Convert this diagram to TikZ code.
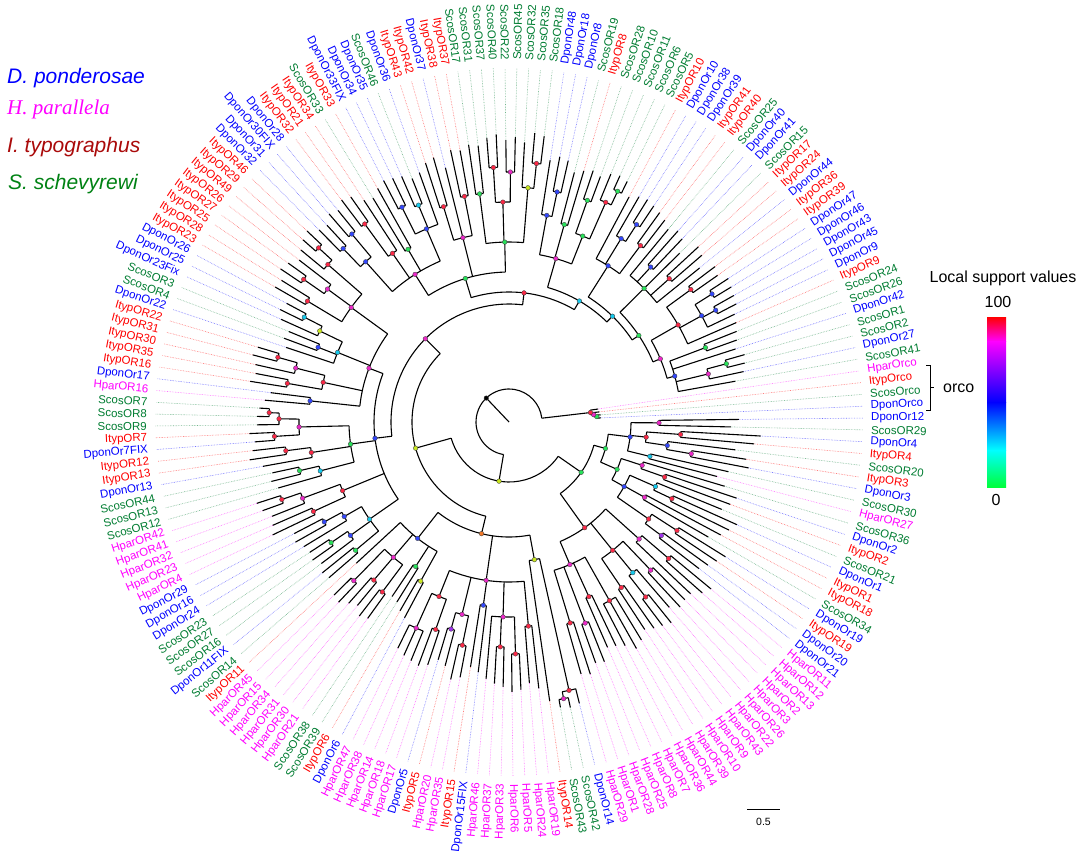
\documentclass[tikz,border=0pt]{standalone}
\usepackage{fontspec}
\setmainfont{Liberation Sans}
\newfontfamily\serifit{Liberation Serif}
\definecolor{spD}{RGB}{0,0,255}
\definecolor{spH}{RGB}{255,0,255}
\definecolor{spI}{RGB}{255,0,0}
\definecolor{spS}{RGB}{0,125,50}
\definecolor{legI}{RGB}{170,10,10}
\definecolor{legS}{RGB}{0,130,20}
\definecolor{cR}{RGB}{250,40,70}
\definecolor{cM}{RGB}{235,40,200}
\definecolor{cP}{RGB}{160,50,235}
\definecolor{cB}{RGB}{50,70,250}
\definecolor{cC}{RGB}{20,200,235}
\definecolor{cG}{RGB}{40,225,90}
\definecolor{cY}{RGB}{200,230,30}
\definecolor{cO}{RGB}{240,120,40}
\newcount\leafk \leafk=0
\newcount\nodek \nodek=0
\def\curR{0}
\def\firstA{}\def\lastA{}
\tikzset{
  branch/.style={line width=1.1pt, black},
  dotline/.style={densely dotted, line width=0.6pt, opacity=0.55},
  leaf/.style={font=\fontsize{11.5}{12}\selectfont, inner sep=0pt},
  dot/.style={circle, inner sep=0pt, minimum size=4.6pt, draw=black!75, line width=0.35pt},
  legend/.style={font=\fontsize{21}{24}\selectfont\itshape, anchor=base west, inner sep=0pt}
}
\newcommand\TL[3]{%
  \pgfmathsetmacro\myA{0.64-\the\leafk*1.914894}%
  \global\advance\leafk by 1
  \draw[branch] (\myA:\curR) -- (\myA:#1);
  \draw[#2, dotline] (\myA:#1) -- (\myA:354);
  \pgfmathtruncatemacro\rt{cos(\myA)>0}%
  \ifnum\rt=1
    \node[leaf, text=#2, rotate=\myA, anchor=west] (L-#3) at (\myA:362) {#3};
  \else
    \node[leaf, text=#2, rotate=\myA+180, anchor=east] (L-#3) at (\myA:362) {#3};
  \fi
  \ifx\firstA\empty \let\firstA\myA \fi
  \let\lastA\myA
}
\newcommand\TN[3]{%
  \begingroup
    \let\parR\curR
    \def\curR{#1}%
    \def\firstA{}\def\lastA{}%
    #3%
    \pgfmathsetmacro\nodeA{(\firstA+\lastA)/2}%
    \draw[branch] (\firstA:#1) arc[start angle=\firstA, end angle=\lastA, radius=#1];
    \draw[branch] (\nodeA:\parR) -- (\nodeA:#1);
    \global\advance\nodek by 1
    \edef\nn{n\the\nodek}%
    \node[dot, fill=#2] (\nn) at (\nodeA:#1) {};
    \xdef\retA{\nodeA}%
  \endgroup
  \ifx\firstA\empty \let\firstA\retA \fi
  \let\lastA\retA
}
\begin{document}
\begin{tikzpicture}[x=1pt, y=1pt]
\useasboundingbox (0,0) rectangle (1084,-859);
\fill[white] (0,0) rectangle (1084,-859);
\begin{scope}[shift={(509,-422)}]
\TN{33}{black}{
 \TN{60}{cY}{
  \TN{88}{cG}{
   \TN{100}{cG}{
    \TN{122}{cB}{
      \TN{150}{cM}{\TL{230}{spD}{DponOr12}\TL{222}{spS}{ScosOR29}}
      \TN{138}{cR}{
        \TN{172}{cR}{\TL{252}{spD}{DponOr4}\TL{246}{spI}{ItypOR4}}
        \TN{160}{cB}{\TL{228}{spS}{ScosOR20}\TN{185}{cM}{\TL{240}{spI}{ItypOR3}\TL{244}{spD}{DponOr3}}}
      }
      \TN{145}{cC}{\TL{225}{spS}{ScosOR30}\TL{215}{spH}{HparOR27}}
    }
    \TN{118}{cG}{
      \TN{140}{cM}{\TL{225}{spS}{ScosOR36}\TN{165}{cR}{\TL{240}{spD}{DponOr2}\TL{236}{spI}{ItypOR2}}}
      \TN{132}{cB}{
        \TN{160}{cC}{\TL{230}{spS}{ScosOR21}\TN{180}{cR}{\TL{250}{spD}{DponOr1}\TL{245}{spI}{ItypOR1}}}
        \TN{155}{cM}{\TL{240}{spI}{ItypOR18}\TL{230}{spS}{ScosOR34}}
        \TN{170}{cR}{\TN{200}{cR}{\TL{255}{spD}{DponOr19}\TL{250}{spI}{ItypOR19}}\TN{190}{cP}{\TL{245}{spD}{DponOr20}\TL{240}{spD}{DponOr21}}}
      }
    }
   }
   \TN{130}{cR}{
     \TN{175}{cM}{\TN{210}{cR}{\TL{262}{spH}{HparOR11}\TL{258}{spH}{HparOR12}}\TL{250}{spH}{HparOR13}}
     \TN{165}{cR}{
       \TN{205}{cM}{\TL{250}{spH}{HparOR2}\TL{252}{spH}{HparOR3}}
       \TN{195}{cC}{\TL{245}{spH}{HparOR26}\TN{222}{cR}{\TL{258}{spH}{HparOR22}\TL{255}{spH}{HparOR43}}}
       \TN{200}{cR}{\TL{252}{spH}{HparOR9}\TL{248}{spH}{HparOR10}}
     }
     \TN{155}{cM}{
       \TN{205}{cR}{\TL{255}{spH}{HparOR39}\TL{260}{spH}{HparOR44}\TL{252}{spH}{HparOR36}}
       \TN{192}{cR}{\TL{248}{spH}{HparOR7}\TL{246}{spH}{HparOR8}}
       \TN{215}{cM}{\TL{258}{spH}{HparOR25}\TL{256}{spH}{HparOR28}}
       \TN{210}{cR}{\TL{265}{spH}{HparOR1}\TL{262}{spH}{HparOR29}}
     }
   }
  }
  \TN{97}{cY}{
   \TN{115}{cO}{
     \TN{140}{cY}{\TN{275}{cR}{\TL{290}{spD}{DponOr14}\TN{282}{cM}{\TL{292}{spS}{ScosOR42}\TL{290}{spS}{ScosOR43}}}\TL{282}{spI}{ItypOR14}}
     \TN{160}{cM}{
       \TN{205}{cR}{\TL{268}{spH}{HparOR19}\TL{262}{spH}{HparOR24}}
       \TN{195}{cM}{\TN{232}{cR}{\TL{268}{spH}{HparOR5}\TL{270}{spH}{HparOR6}}\TN{225}{cR}{\TL{265}{spH}{HparOR33}\TL{262}{spH}{HparOR37}}\TL{258}{spH}{HparOR46}}
       \TN{185}{cB}{\TL{252}{spD}{DponOr15FIX}\TL{248}{spI}{ItypOR15}}
       \TN{198}{cM}{\TN{228}{cR}{\TL{260}{spH}{HparOR35}\TL{264}{spH}{HparOR20}}\TN{215}{cP}{\TL{252}{spI}{ItypOR5}\TL{248}{spD}{DponOr5}}}
       \TN{188}{cR}{\TN{220}{cR}{\TL{256}{spH}{HparOR17}\TL{260}{spH}{HparOR18}}\TN{226}{cM}{\TL{258}{spH}{HparOR14}\TL{256}{spH}{HparOR38}\TL{252}{spH}{HparOR47}}}
     }
     \TN{148}{cB}{
       \TN{182}{cY}{\TL{222}{spD}{DponOr6}\TL{218}{spI}{ItypOR6}}
       \TN{172}{cG}{\TL{212}{spS}{ScosOR39}\TL{210}{spS}{ScosOR38}}
       \TN{178}{cM}{\TN{212}{cR}{\TL{242}{spH}{HparOR21}\TL{245}{spH}{HparOR30}}\TN{208}{cR}{\TL{238}{spH}{HparOR31}\TL{242}{spH}{HparOR34}}\TN{222}{cM}{\TL{248}{spH}{HparOR15}\TL{246}{spH}{HparOR45}}}
       \TL{208}{spI}{ItypOR11}
     }
   }
   \TN{118}{cM}{
    \TN{135}{cB}{
     \TN{170}{cC}{
       \TN{200}{cG}{\TL{238}{spS}{ScosOR14}\TL{240}{spD}{DponOr11FIX}}
       \TN{195}{cB}{\TL{235}{spS}{ScosOR16}\TN{215}{cG}{\TL{240}{spS}{ScosOR27}\TL{238}{spS}{ScosOR23}}}
       \TN{190}{cB}{\TL{240}{spD}{DponOr24}\TN{210}{cB}{\TL{245}{spD}{DponOr16}\TL{242}{spD}{DponOr29}}}
     }
     \TN{180}{cR}{\TN{215}{cR}{\TL{262}{spH}{HparOR4}\TL{258}{spH}{HparOR23}}\TN{220}{cM}{\TL{255}{spH}{HparOR32}\TN{240}{cR}{\TL{262}{spH}{HparOR41}\TL{265}{spH}{HparOR42}}}}
     \TN{160}{cG}{
       \TN{195}{cC}{\TL{240}{spS}{ScosOR12}\TN{215}{cG}{\TL{245}{spS}{ScosOR13}\TL{242}{spS}{ScosOR44}}}
       \TN{200}{cR}{\TL{250}{spD}{DponOr13}\TN{225}{cR}{\TL{262}{spI}{ItypOR13}\TL{258}{spI}{ItypOR12}}}
       \TN{210}{cM}{\TN{235}{cR}{\TL{255}{spD}{DponOr7FIX}\TL{260}{spI}{ItypOR7}}\TN{230}{cR}{\TL{252}{spS}{ScosOR9}\TN{240}{cR}{\TL{252}{spS}{ScosOR8}\TL{250}{spS}{ScosOR7}}}}
     }
     \TN{150}{cM}{
       \TN{200}{cB}{\TL{245}{spH}{HparOR16}\TL{240}{spD}{DponOr17}}
       \TN{190}{cR}{\TN{225}{cR}{\TL{262}{spI}{ItypOR16}\TL{258}{spI}{ItypOR35}}\TN{220}{cM}{\TL{260}{spI}{ItypOR30}\TN{240}{cR}{\TL{265}{spI}{ItypOR31}\TL{262}{spI}{ItypOR22}}}}
       \TN{185}{cC}{\TL{235}{spD}{DponOr22}\TN{205}{cB}{\TL{240}{spS}{ScosOR4}\TL{238}{spS}{ScosOR3}}\TN{210}{cY}{\TL{250}{spD}{DponOr23Fix}\TN{230}{cC}{\TL{255}{spD}{DponOr25}\TL{252}{spD}{DponOr26}}}}
       \TN{195}{cM}{\TN{235}{cR}{\TL{270}{spI}{ItypOR23}\TL{268}{spI}{ItypOR28}}\TN{225}{cM}{\TN{250}{cR}{\TL{275}{spI}{ItypOR25}\TL{272}{spI}{ItypOR27}}\TL{265}{spI}{ItypOR26}}\TN{240}{cR}{\TL{270}{spI}{ItypOR49}\TN{258}{cR}{\TL{275}{spI}{ItypOR29}\TL{278}{spI}{ItypOR46}}}}
     }
    }
    \TN{130}{cR}{
     \TN{150}{cG}{
       \TN{175}{cM}{
         \TN{215}{cB}{\TN{240}{cB}{\TL{270}{spD}{DponOr32}\TL{268}{spD}{DponOr31}}\TN{245}{cB}{\TL{275}{spD}{DponOr30FIX}\TL{272}{spD}{DponOr28}}}
         \TN{205}{cR}{\TN{245}{cR}{\TL{278}{spI}{ItypOR32}\TL{275}{spI}{ItypOR21}}\TL{265}{spI}{ItypOR34}}
         \TN{200}{cG}{\TL{262}{spS}{ScosOR33}\TL{268}{spI}{ItypOR33}}
         \TN{210}{cB}{\TN{240}{cB}{\TL{272}{spD}{DponOr33FIX}\TL{270}{spD}{DponOr34}}\TN{235}{cC}{\TL{268}{spD}{DponOr35}\TL{262}{spS}{ScosOR46}}\TL{265}{spD}{DponOr36}}
       }
       \TN{190}{cM}{\TN{225}{cR}{\TL{272}{spI}{ItypOR43}\TL{275}{spI}{ItypOR42}}\TL{262}{spD}{DponOr37}\TN{230}{cR}{\TL{278}{spI}{ItypOR38}\TL{276}{spI}{ItypOR37}}}
       \TN{180}{cG}{
         \TN{230}{cG}{\TL{280}{spS}{ScosOR17}\TL{278}{spS}{ScosOR31}}
         \TN{220}{cR}{\TN{255}{cR}{\TL{285}{spS}{ScosOR37}\TL{288}{spS}{ScosOR40}}\TN{250}{cM}{\TL{282}{spS}{ScosOR22}\TL{285}{spS}{ScosOR45}}}
         \TN{235}{cY}{\TL{280}{spS}{ScosOR32}\TN{260}{cR}{\TL{290}{spS}{ScosOR35}\TL{288}{spS}{ScosOR18}}}
       }
     }
     \TN{140}{cC}{
       \TN{170}{cM}{
         \TN{210}{cB}{\TL{265}{spD}{DponOr48}\TN{235}{cB}{\TL{270}{spD}{DponOr18}\TL{268}{spD}{DponOr8}}}
         \TN{205}{cG}{\TL{258}{spS}{ScosOR19}\TL{262}{spI}{ItypOR8}}
         \TN{200}{cG}{\TN{235}{cG}{\TL{265}{spS}{ScosOR28}\TL{262}{spS}{ScosOR10}}\TN{240}{cR}{\TL{268}{spS}{ScosOR11}\TN{255}{cG}{\TL{270}{spS}{ScosOR6}\TL{268}{spS}{ScosOR5}}}}
       }
       \TN{148}{cC}{
         \TN{185}{cB}{\TL{255}{spI}{ItypOR10}\TN{215}{cB}{\TL{260}{spD}{DponOr10}\TN{235}{cB}{\TL{262}{spD}{DponOr38}\TL{260}{spD}{DponOr39}}}\TN{220}{cR}{\TL{258}{spI}{ItypOR41}\TL{255}{spI}{ItypOR40}}}
         \TN{156}{cG}{
           \TN{190}{cG}{\TL{250}{spS}{ScosOR25}\TN{210}{cB}{\TL{255}{spD}{DponOr40}\TL{252}{spD}{DponOr41}}\TL{240}{spS}{ScosOR15}\TN{215}{cR}{\TL{258}{spI}{ItypOR17}\TL{255}{spI}{ItypOR24}}\TL{245}{spD}{DponOr44}}
           \TN{164}{cM}{
             \TN{195}{cR}{\TN{225}{cR}{\TL{258}{spI}{ItypOR36}\TL{255}{spI}{ItypOR39}}\TN{220}{cB}{\TN{240}{cB}{\TL{262}{spD}{DponOr47}\TL{260}{spD}{DponOr46}}\TN{235}{cB}{\TL{258}{spD}{DponOr43}\TL{256}{spD}{DponOr45}}\TL{250}{spD}{DponOr9}}\TL{248}{spI}{ItypOR9}}
             \TN{172}{cB}{\TN{210}{cG}{\TL{245}{spS}{ScosOR24}\TL{242}{spS}{ScosOR26}}\TL{238}{spD}{DponOr42}\TN{205}{cM}{\TN{225}{cG}{\TL{245}{spS}{ScosOR1}\TL{243}{spS}{ScosOR2}}\TL{240}{spD}{DponOr27}}\TL{230}{spS}{ScosOR41}}
           }
         }
       }
     }
    }
   }
  }
 }
 \TN{82}{cR}{
   \TL{90}{spH}{HparOrco}
   \TN{85}{cM}{
     \TL{91}{spI}{ItypOrco}
     \TN{88}{cG}{\TL{92}{spS}{ScosOrco}\TL{92}{spD}{DponOrco}}
   }
 }
}
\end{scope}
% legend
\node[legend, text=spD] (legD) at (7,-84) {D. ponderosae};
\node[legend, text=spH, font=\fontsize{21}{24}\selectfont\serifit\itshape] (legH) at (7,-114) {H. parallela};
\node[legend, text=legI] (legI) at (7,-152) {I. typographus};
\node[legend, text=legS] (legS) at (8,-189) {S. schevyrewi};
% colour bar
\node[font=\fontsize{16}{18}\selectfont, anchor=base, inner sep=0pt] (cbT) at (1003,-282) {Local support values};
\node[font=\fontsize{16}{18}\selectfont, anchor=base, inner sep=0pt] (cb100) at (998,-307) {100};
\node[font=\fontsize{16}{18}\selectfont, anchor=base, inner sep=0pt] (cb0) at (996,-505) {0};
\shade[top color=red, bottom color=magenta] (987,-317) rectangle (1006,-341.5);
\shade[top color=magenta, bottom color=blue] (987,-341) rectangle (1006,-402.5);
\shade[top color=blue, bottom color=cyan] (987,-402) rectangle (1006,-450.5);
\shade[top color=cyan, bottom color={rgb,255:red,0;green,255;blue,60}] (987,-450) rectangle (1006,-487);
% orco bracket
\coordinate (brT) at (926,-365);
\coordinate (brB) at (926,-410);
\coordinate (brM) at (934,-387.5);
\draw[line width=1pt] (brT) -- ++(4,0) |- (brB);
\draw[line width=1pt] (930,-387.5) -- (brM);
\node[font=\fontsize{16}{18}\selectfont, anchor=base west, inner sep=0pt] (orcoT) at (943,-392) {orco};
% scale bar
\coordinate (sbA) at (747,-809);
\coordinate (sbB) at (780,-809);
\draw[line width=0.9pt] (sbA) -- (sbB);
\node[font=\fontsize{10.5}{12}\selectfont, anchor=base, inner sep=0pt] (sbT) at (763.5,-825) {0.5};
\end{tikzpicture}
\end{document}
